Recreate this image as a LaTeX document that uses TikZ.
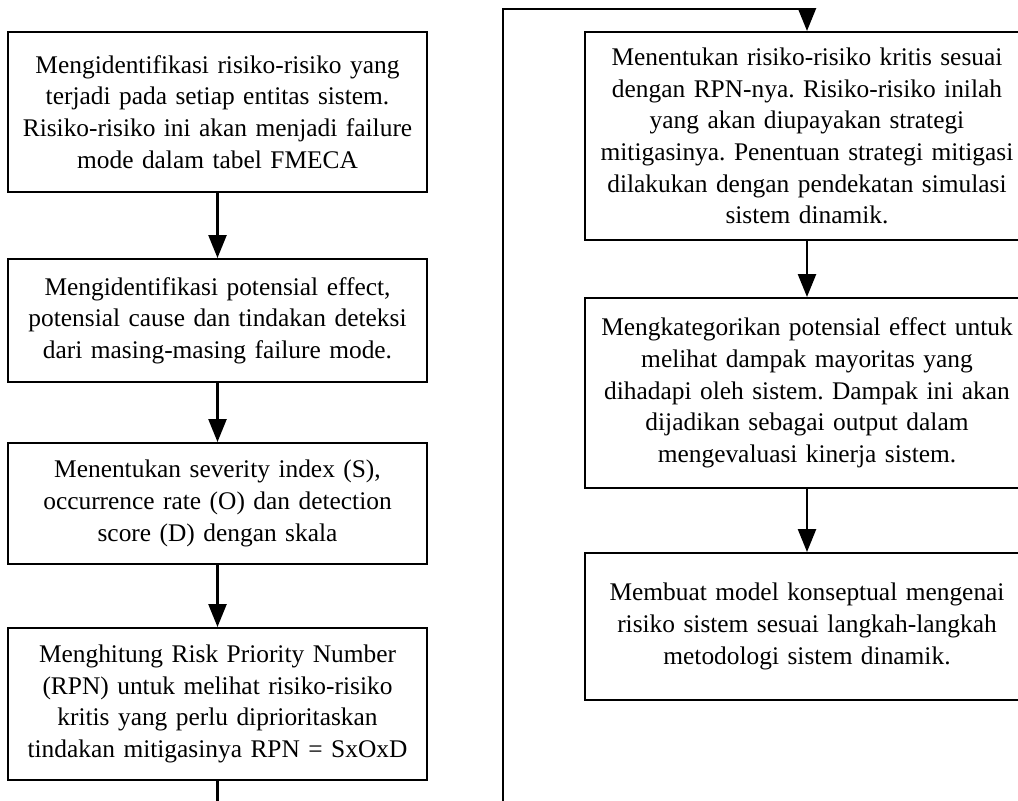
\documentclass[tikz,border=0pt]{standalone}
\usepackage{fontspec}
\setmainfont{Liberation Serif}
\usetikzlibrary{arrows.meta}
\frenchspacing

\begin{document}
\begin{tikzpicture}[x=1pt,y=-1pt,
  stepbox/.style={draw, line width=2pt, rectangle, align=center, inner sep=0pt,
    font=\fontsize{25.4}{31.7}\selectfont},
  lbox/.style={stepbox, text width=415pt, minimum width=419pt},
  rbox/.style={stepbox, text width=440pt, minimum width=444pt},
  conn/.style={line width=2.5pt, -{Triangle[length=23pt,width=18pt]}}
]
\useasboundingbox (0,0) rectangle (1018,801);
\clip (0,0) rectangle (1018,801);

% left column
\node[lbox, minimum height=160pt] (l1) at (217.5,112)
  {Mengidentifikasi risiko-risiko yang\\terjadi pada setiap entitas sistem.\\Risiko-risiko ini akan menjadi failure\\mode dalam tabel FMECA};
\node[lbox, minimum height=123pt] (l2) at (217.5,320.5)
  {Mengidentifikasi potensial effect,\\potensial cause dan tindakan deteksi\\dari masing-masing failure mode.};
\node[lbox, minimum height=121pt] (l3) at (217.5,503.5)
  {Menentukan severity index (S),\\occurrence rate (O) dan detection\\score (D) dengan skala};
\node[lbox, minimum height=152pt] (l4) at (217.5,704)
  {Menghitung Risk Priority Number\\(RPN) untuk melihat risiko-risiko\\kritis yang perlu diprioritaskan\\tindakan mitigasinya RPN = SxOxD};

% right column
\node[rbox, minimum height=208pt] (r1) at (807,136)
  {Menentukan risiko-risiko kritis sesuai\\dengan RPN-nya. Risiko-risiko inilah\\yang akan diupayakan strategi\\mitigasinya. Penentuan strategi mitigasi\\dilakukan dengan pendekatan simulasi\\sistem dinamik.};
\node[rbox, minimum height=190pt] (r2) at (807,393)
  {Mengkategorikan potensial effect untuk\\melihat dampak mayoritas yang\\dihadapi oleh sistem. Dampak ini akan\\dijadikan sebagai output dalam\\mengevaluasi kinerja sistem.};
\node[rbox, minimum height=147pt] (r3) at (807,626.5)
  {Membuat model konseptual mengenai\\risiko sistem sesuai langkah-langkah\\metodologi sistem dinamik.};

% connectors
\draw[conn] (l1.south) -- (l2.north);
\draw[conn] (l2.south) -- (l3.north);
\draw[conn] (l3.south) -- (l4.north);

\coordinate (bottomturn) at (503,820);
\coordinate (topturn) at (503,9);
\draw[conn] (l4.south) |- (bottomturn) -- (topturn) -| (r1.north);

\draw[conn] (r1.south) -- (r2.north);
\draw[conn] (r2.south) -- (r3.north);
\end{tikzpicture}
\end{document}
